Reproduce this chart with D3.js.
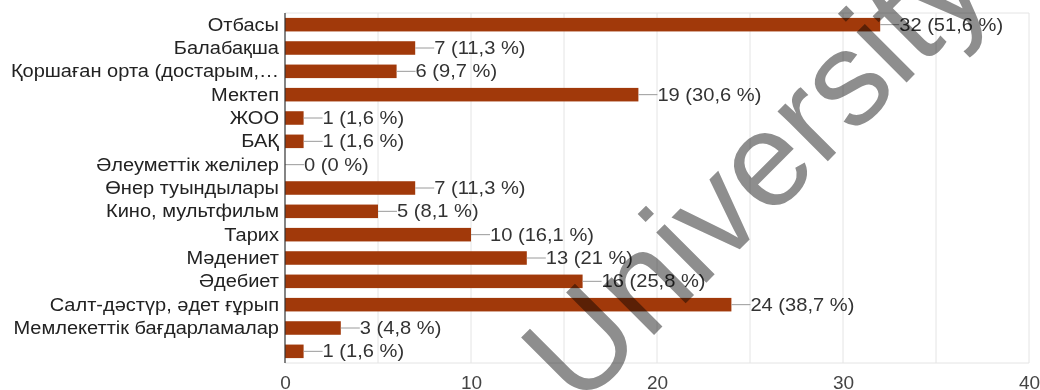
<!DOCTYPE html>
<html>
<head>
<meta charset="utf-8">
<script src="https://cdn.jsdelivr.net/npm/d3@7"></script>
<style>
  html, body { margin: 0; padding: 0; background: #fff; }
  svg { display: block; }
  text { font-family: "Liberation Sans", Arial, sans-serif; }
</style>
</head>
<body>
<svg id="chart" width="1040" height="390"></svg>
<script>
const categories = [
  "Отбасы", "Балабақша", "Қоршаған орта (достарым,…", "Мектеп", "ЖОО", "БАҚ",
  "Әлеуметтік желілер", "Өнер туындылары", "Кино, мультфильм", "Тарих",
  "Мәдениет", "Әдебиет", "Салт-дәстүр, әдет ғұрып", "Мемлекеттік бағдарламалар", ""
];
const counts = [32, 7, 6, 19, 1, 1, 0, 7, 5, 10, 13, 16, 24, 3, 1];
const percents = ["51,6", "11,3", "9,7", "30,6", "1,6", "1,6", "0", "11,3", "8,1", "16,1", "21", "25,8", "38,7", "4,8", "1,6"];
const xTicks = [0, 10, 20, 30, 40];
const gridValues = [5, 10, 15, 20, 25, 30, 35, 40];
const watermark = "University";

const svg = d3.select("#chart");
const plotL = 285, plotR = 1029, plotT = 13, plotB = 363;
const SX_CAT = 1.145, SX_VAL = 1.15;

const x = d3.scaleLinear().domain([0, 40]).range([plotL, plotR]);
const y = d3.scaleBand().domain(d3.range(categories.length)).range([plotT, plotB])
  .paddingInner(0.42).paddingOuter(0.21);

// grid
const grid = svg.append("g");
grid.selectAll("line.v").data(gridValues).join("line")
  .attr("class", "v")
  .attr("x1", d => x(d)).attr("x2", d => x(d))
  .attr("y1", plotT).attr("y2", plotB)
  .attr("stroke", "#e4e4e4").attr("stroke-width", 1);
grid.selectAll("line.h").data([plotT, plotB]).join("line")
  .attr("class", "h")
  .attr("x1", plotL).attr("x2", plotR)
  .attr("y1", d => d).attr("y2", d => d)
  .attr("stroke", "#e4e4e4").attr("stroke-width", 1);

// bars
svg.append("g").selectAll("rect").data(counts).join("rect")
  .attr("x", x(0))
  .attr("y", (d, i) => y(i))
  .attr("width", d => x(d) - x(0))
  .attr("height", y.bandwidth())
  .attr("fill", "#a1390a");

// leader lines + value labels
const lab = svg.append("g");
lab.selectAll("line").data(counts).join("line")
  .attr("x1", d => x(d)).attr("x2", d => x(d) + 19)
  .attr("y1", (d, i) => y(i) + y.bandwidth() / 2)
  .attr("y2", (d, i) => y(i) + y.bandwidth() / 2)
  .attr("stroke", "#9a9a9a").attr("stroke-width", 1);
lab.selectAll("text").data(counts).join("text")
  .attr("transform", (d, i) => `translate(${x(d) + 19},${y(i) + y.bandwidth() / 2}) scale(${SX_VAL},1)`)
  .attr("dy", "0.35em")
  .attr("font-size", 17.5)
  .attr("fill", "#333")
  .text((d, i) => `${d} (${percents[i]} %)`);

// left axis (category labels)
const yAxis = svg.append("g").attr("transform", `translate(${plotL},0)`)
  .call(d3.axisLeft(y).tickSize(0).tickFormat(i => categories[i]));
yAxis.select(".domain").remove();
yAxis.selectAll("text")
  .attr("x", 0).attr("dy", "0.35em")
  .attr("transform", `translate(-6,0) scale(${SX_CAT},1)`)
  .attr("font-size", 17.5)
  .attr("font-family", "Liberation Sans, Arial, sans-serif")
  .attr("fill", "#222");
svg.append("line")
  .attr("x1", plotL).attr("x2", plotL).attr("y1", plotT).attr("y2", plotB)
  .attr("stroke", "#333").attr("stroke-width", 1.2);

// bottom axis ticks
const xAxis = svg.append("g").attr("transform", `translate(0,${plotB})`)
  .call(d3.axisBottom(x).tickValues(xTicks).tickSize(0));
xAxis.select(".domain").remove();
xAxis.selectAll("text")
  .attr("y", 26).attr("dy", 0)
  .attr("font-size", 19)
  .attr("font-family", "Liberation Sans, Arial, sans-serif")
  .attr("fill", "#444");

// watermark
svg.append("text")
  .attr("transform", "translate(579,410) rotate(-45)")
  .attr("font-size", 134)
  .attr("fill", "#8e8e8e")
  .style("mix-blend-mode", "multiply")
  .text(watermark);
</script>
</body>
</html>
